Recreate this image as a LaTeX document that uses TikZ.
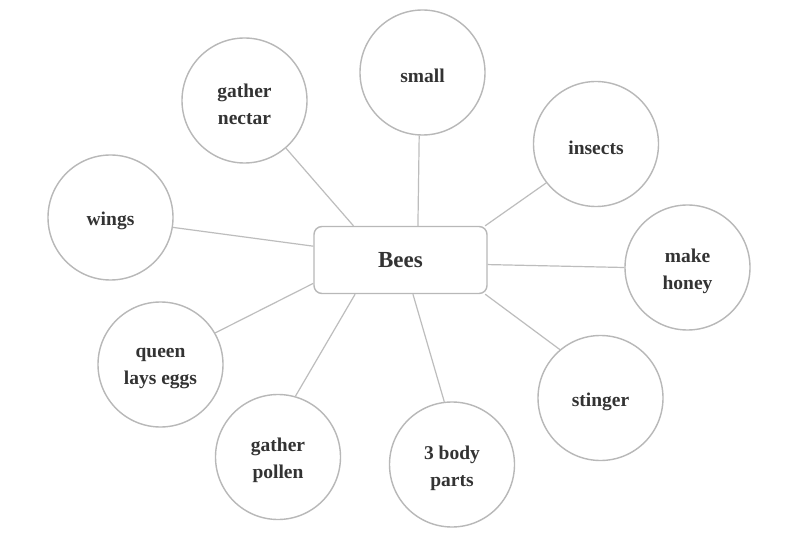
\documentclass[tikz,border=0pt]{standalone}
\usepackage{fontspec}
\setmainfont{Liberation Serif}
\begin{document}
\begin{tikzpicture}[x=1pt,y=-1pt,
  bubble/.style={circle,draw=edgegray,line width=1.4pt,fill=white,minimum size=125pt,inner sep=0pt},
  txt/.style={align=center,font=\fontsize{19.5}{27}\selectfont\bfseries,text=textgray,yshift=-3.5pt,inner sep=0pt},
  hub/.style={rectangle,rounded corners=8pt,draw=edgegray,line width=1.4pt,fill=white,
    minimum width=173pt,minimum height=67pt,inner sep=0pt,font=\fontsize{23}{27}\selectfont\bfseries,text=textgray},
  link/.style={draw=linegray,line width=1.2pt}]
\definecolor{edgegray}{HTML}{B8B8B8}
\definecolor{linegray}{HTML}{BDBDBD}
\definecolor{textgray}{HTML}{333333}
\useasboundingbox[fill=white] (0,0) rectangle (800,534);
\node[hub] (bees) at (400.5,260) {Bees};
\node[bubble,label={[txt]center:{small}}] (small) at (422.5,72.5) {};
\node[bubble,label={[txt]center:{gather\\nectar}}] (nectar) at (244.5,100.5) {};
\node[bubble,label={[txt]center:{wings}}] (wings) at (110.5,217.5) {};
\node[bubble,label={[txt]center:{queen\\lays eggs}}] (queen) at (160.5,364.5) {};
\node[bubble,label={[txt]center:{gather\\pollen}}] (pollen) at (278,457) {};
\node[bubble,label={[txt]center:{3 body\\parts}}] (body) at (452,464.5) {};
\node[bubble,label={[txt]center:{stinger}}] (stinger) at (600.5,398) {};
\node[bubble,label={[txt]center:{make\\honey}}] (honey) at (687.5,267.5) {};
\node[bubble,label={[txt]center:{insects}}] (insects) at (596,144) {};
\draw[link] (bees.63.8) -- (small.267.7);
\draw[link] (bees.144.8) -- (nectar.311);
\draw[link] (bees.171.1) -- (wings.351.4);
\draw[link] (bees.195.2) -- (queen.30.8);
\draw[link] (bees.217.6) -- (pollen.74.7);
\draw[link] (bees.290.5) -- (body.97.3);
\draw[link] (bees.338.4) -- (stinger.130.7);
\draw[link] (bees.357.7) -- (honey.180);
\draw[link] (bees.22.1) -- (insects.218.5);
\end{tikzpicture}
\end{document}
